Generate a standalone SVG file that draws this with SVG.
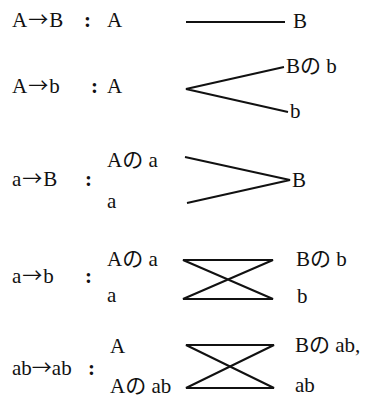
<svg xmlns="http://www.w3.org/2000/svg" width="369" height="401" viewBox="0 0 369 401">
<style>
.t text{font-family:'Liberation Serif','DejaVu Serif','Noto Sans CJK JP',serif;font-size:21px;fill:#111}
.ar{font-family:'Noto Sans CJK JP',sans-serif;font-size:20px}
.c{font-weight:bold}
.ln{stroke:#111;stroke-width:2;fill:none;stroke-linejoin:miter}
</style>
<rect width="369" height="401" fill="#fff"/>
<g class="t" font-family="Liberation Serif, Noto Sans CJK JP, serif" font-size="21">
<g id="row1">
<text x="12" y="27">A<tspan class="ar" dx="1">→</tspan><tspan dx="1">B</tspan></text><text class="c" x="84" y="27">:</text><text x="107" y="27">A</text>
<text x="293" y="28">B</text>
</g>
<g id="row2">
<text x="12" y="93">A<tspan class="ar" dx="1">→</tspan><tspan dx="1">b</tspan></text><text class="c" x="91" y="93">:</text><text x="107" y="93">A</text>
<text x="286" y="73">Bの b</text>
<text x="290" y="118">b</text>
</g>
<g id="row3">
<text x="12" y="186">a<tspan class="ar" dx="1">→</tspan><tspan dx="1">B</tspan></text><text class="c" x="85" y="186">:</text>
<text x="107" y="167">Aの a</text>
<text x="107" y="208">a</text>
<text x="292" y="187">B</text>
</g>
<g id="row4">
<text x="12" y="283">a<tspan class="ar" dx="1">→</tspan><tspan dx="1">b</tspan></text><text class="c" x="85" y="283">:</text>
<text x="107" y="266">Aの a</text>
<text x="107" y="302">a</text>
<text x="296" y="266">Bの b</text>
<text x="297" y="303">b</text>
</g>
<g id="row5">
<text x="12" y="375">ab<tspan class="ar">→</tspan>ab</text><text class="c" x="88" y="375">:</text>
<text x="110" y="353">A</text>
<text x="110" y="393">Aの ab</text>
<text x="295" y="352">Bの ab,</text>
<text x="295" y="392">ab</text>
</g>
</g>
<g id="connectors">
<line class="ln" x1="186" y1="22" x2="285" y2="22"/>
<polyline class="ln" points="284,67 186,89 288,112"/>
<polyline class="ln" points="185,157 290,180 187,203"/>
<polygon class="ln" points="183,260 273,260 183,299 273,299"/>
<polygon class="ln" points="186,345 274,345 186,388 274,388"/>
</g>
</svg>
